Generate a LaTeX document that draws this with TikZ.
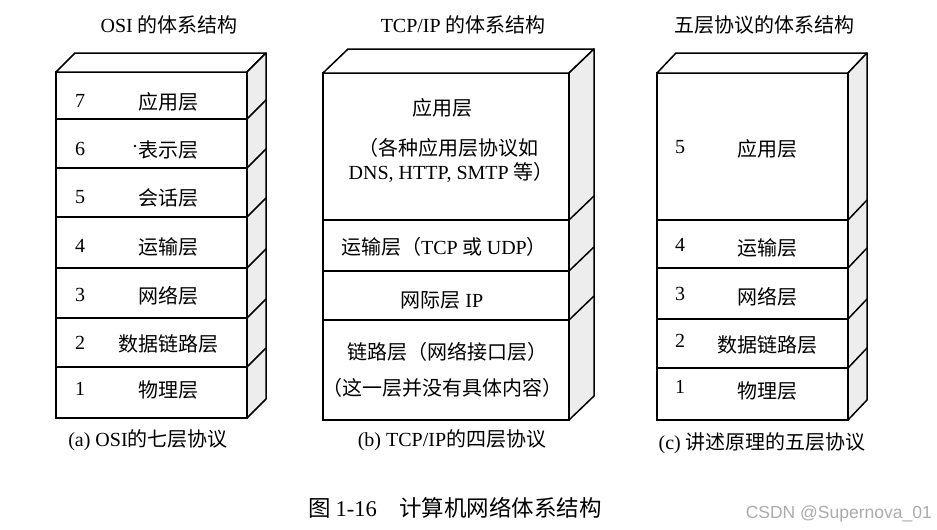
\documentclass[tikz,border=0pt]{standalone}
\usepackage{fontspec}
\setmainfont{Liberation Serif}
\setsansfont{Liberation Sans}
\newfontfamily\zhfont{Noto Sans CJK SC}
\usetikzlibrary{positioning}
\definecolor{sidegray}{HTML}{EDEDED}
\definecolor{markgray}{HTML}{ABABAB}

\begin{document}
\begin{tikzpicture}[x=1pt,y=-1pt,
  layerbox/.style={draw,line width=1.5pt,inner sep=0pt,outer sep=0pt},
  face/.style={draw,line width=1.5pt,line join=round},
  zh/.style={font=\zhfont\fontsize{20}{22}\selectfont,inner sep=0pt},
  num/.style={font=\fontsize{20}{22}\selectfont,inner sep=0pt}]
% page 937 x 530, 1pt = 1px, y grows downward
\useasboundingbox (0,0) rectangle (937,530);

% titles
\node[zh] (titleosi) at (169,25) {{\rmfamily OSI} 的体系结构};
\node[zh] (titletcp) at (463,25) {{\rmfamily TCP/IP} 的体系结构};
\node[zh] (titlefive) at (764,25) {五层协议的体系结构};

% (a) OSI: front x 56..247, depth 19
\foreach \i/\a/\b/\ty/\t in {7/72/119/101.7/应用层, 6/119/168/150/表示层, 5/168/217/198.3/会话层,
    4/217/268/246.7/运输层, 3/268/318/295.7/网络层, 2/318/367/343.7/数据链路层, 1/367/418/390/物理层} {
  \node[layerbox,minimum width=191pt,minimum height={(\b-\a)*1pt}] (osi\i) at (151.5,{(\a+\b)/2}) {};
  \node[num] (osinum\i) at (80,\ty-1) {\i};
  \node[zh] (osilab\i) at (168,\ty) {\t};
}
\fill (135,146) circle (1.3);
\draw[face,fill=white] (osi7.north west) -- ++(19,-19) -- ([shift={(19,-19)}]osi7.north east) -- (osi7.north east) -- cycle;
\draw[face,fill=sidegray] (osi7.north east) -- ++(19,-19) -- ([shift={(19,-19)}]osi1.south east) -- (osi1.south east) -- cycle;
\foreach \i in {1,...,6} \draw[face] (osi\i.north east) -- ++(19,-19);
\node[zh] (capa) at (148,440) {{\rmfamily (a) OSI}的七层协议};

% (b) TCP/IP: front x 323..569, depth 25/24
\foreach \i/\a/\b in {4/73/220, 3/220/271, 2/271/320, 1/320/420}
  \node[layerbox,minimum width=246pt,minimum height={(\b-\a)*1pt}] (tcp\i) at (446,{(\a+\b)/2}) {};
\draw[face,fill=white] (tcp4.north west) -- ++(25,-24) -- ([shift={(25,-24)}]tcp4.north east) -- (tcp4.north east) -- cycle;
\draw[face,fill=sidegray] (tcp4.north east) -- ++(25,-24) -- ([shift={(25,-24)}]tcp1.south east) -- (tcp1.south east) -- cycle;
\foreach \i in {1,2,3} \draw[face] (tcp\i.north east) -- ++(25,-24);
\node[zh] (tcplab4) at (442,107.5) {应用层};
\node[zh] (tcpnote4a) at (448,148) {（各种应用层协议如};
\node[zh] (tcpnote4b) at (451,172.5) {{\rmfamily DNS, HTTP, SMTP} 等）};
\node[zh] (tcplab3) at (444,246.7) {运输层（{\rmfamily TCP} 或 {\rmfamily UDP}）};
\node[zh] (tcplab2) at (442,300) {网际层 {\rmfamily IP}};
\node[zh] (tcplab1) at (447,352) {链路层（网络接口层）};
\node[zh] (tcpnote1) at (442,388) {（这一层并没有具体内容）};
\node[zh] (capb) at (452,440) {{\rmfamily (b) TCP/IP}的四层协议};

% (c) five layers: front x 657..848, depth 19/20
\foreach \i/\a/\b/\ny/\ty/\t in {5/73/220/147.5/149/应用层, 4/220/268/245/248/运输层, 3/268/319/293.5/296.5/网络层,
    2/319/368/341/345/数据链路层, 1/368/420/386.5/391/物理层} {
  \node[layerbox,minimum width=191pt,minimum height={(\b-\a)*1pt}] (five\i) at (752.5,{(\a+\b)/2}) {};
  \node[num] (fivenum\i) at (680,\ny) {\i};
  \node[zh] (fivelab\i) at (767,\ty) {\t};
}
\draw[face,fill=white] (five5.north west) -- ++(19,-20) -- ([shift={(19,-20)}]five5.north east) -- (five5.north east) -- cycle;
\draw[face,fill=sidegray] (five5.north east) -- ++(19,-20) -- ([shift={(19,-20)}]five1.south east) -- (five1.south east) -- cycle;
\foreach \i in {1,...,4} \draw[face] (five\i.north east) -- ++(19,-20);
\node[zh] (capc) at (762,443) {{\rmfamily (c)} 讲述原理的五层协议};

% figure caption and mark
\node[zh,font=\zhfont\fontsize{22.5}{24}\selectfont] (figcap) at (455,508) {图 {\rmfamily 1-16}\quad 计算机网络体系结构};
\node[font=\sffamily\fontsize{17.5}{20}\selectfont,text=markgray,anchor=east,inner sep=0pt] (mark) at (932,514) {CSDN @Supernova\_01};
\end{tikzpicture}
\end{document}
